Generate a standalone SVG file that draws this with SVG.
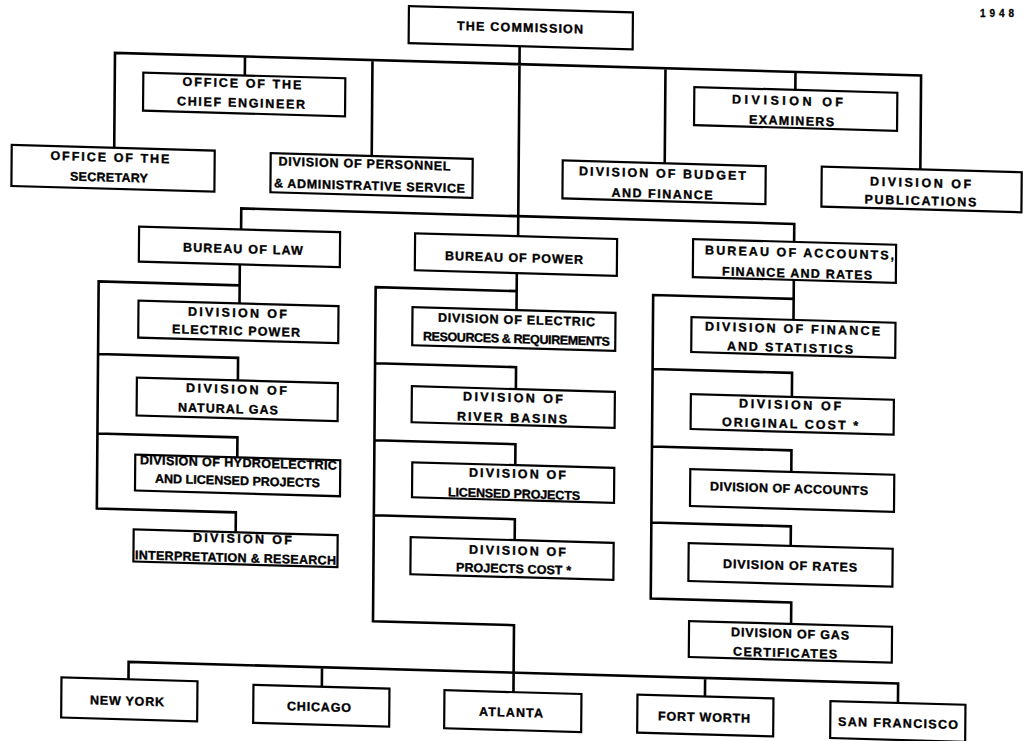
<svg xmlns="http://www.w3.org/2000/svg" width="1025" height="741" viewBox="0 0 1025 741">
<style>
.box{fill:#fff;stroke:#000;stroke-width:2.2}
.conn{fill:none;stroke:#000;stroke-width:2.6;stroke-linejoin:miter}
.lbl{font-family:"Liberation Sans",Arial,sans-serif;font-weight:bold;font-size:12.5px;text-anchor:middle;fill:#000;stroke:#000;stroke-width:0.35}
.yr{font-family:"Liberation Sans",Arial,sans-serif;font-weight:bold;font-size:10px;fill:#000;stroke:#000;stroke-width:0.3}
</style>
<rect x="0" y="0" width="1025" height="741" fill="#fff"/>
<text class="yr" x="980" y="17" textLength="34" lengthAdjust="spacing">1948</text>
<g transform="matrix(1,0.028,-0.008,1,3,-14.3)">
<g id="connectors">
<path class="conn" d="M112.5,159 V64 H918.6 V158 M242.5,64 V83 M370,64 V160 M663,64 V159 M793,64 V82 M517,45.6 V236"/>
<path class="conn" d="M240,237 V216 H793 V234"/>
<path class="conn" d="M239,272 V311 M239,293 H98 V520 H237 V540 M98,365.5 H238 V388 M98,445 H238 V465"/>
<path class="conn" d="M516,273 V310 M516,291 H375 V625 H516 V692 M375,367 H516 V389 M375,444 H516 V465 M375,519 H516 V540"/>
<path class="conn" d="M793,272 V312 M793,291 H652.5 V594.5 H793 V616 M652.5,365 H792 V389 M652.5,442.5 H792 V464 M652.5,518.5 H792 V538"/>
<path class="conn" d="M131,690 V672.5 H900.5 V692 M324.4,672.5 V692 M707.5,672.5 V691"/>
</g>
<g id="commission"><rect class="box" x="406" y="9" width="224" height="37"/><text class="lbl" x="517.3" y="31.5" textLength="126" lengthAdjust="spacing">THE COMMISSION</text></g>
<g id="chief-engineer"><rect class="box" x="141" y="83" width="202" height="38"/><text class="lbl" x="239.7" y="95.1" textLength="119" lengthAdjust="spacing">OFFICE OF THE</text><text class="lbl" x="238.9" y="114.6" textLength="128" lengthAdjust="spacing">CHIEF ENGINEER</text></g>
<g id="secretary"><rect class="box" x="10" y="159" width="203" height="41"/><text class="lbl" x="108.3" y="172.8" textLength="119" lengthAdjust="spacing">OFFICE OF THE</text><text class="lbl" x="107.5" y="192.8" textLength="78" lengthAdjust="spacing">SECRETARY</text></g>
<g id="personnel"><rect class="box" x="269" y="160" width="202" height="39"/><text class="lbl" x="362.8" y="172.1" textLength="172" lengthAdjust="spacing">DIVISION OF PERSONNEL</text><text class="lbl" x="368" y="194" textLength="191" lengthAdjust="spacing">&amp; ADMINISTRATIVE SERVICE</text></g>
<g id="budget"><rect class="box" x="561" y="159" width="203" height="38"/><text class="lbl" x="660.9" y="173.5" textLength="167" lengthAdjust="spacing">DIVISION OF BUDGET</text><text class="lbl" x="660.6" y="194" textLength="101" lengthAdjust="spacing">AND FINANCE</text></g>
<g id="examiners"><rect class="box" x="692" y="82" width="203" height="38"/><text class="lbl" x="785.3" y="97.3" textLength="111" lengthAdjust="spacing">DIVISION OF</text><text class="lbl" x="789.5" y="117.2" textLength="85" lengthAdjust="spacing">EXAMINERS</text></g>
<g id="publications"><rect class="box" x="820" y="158" width="200" height="40"/><text class="lbl" x="919" y="175.6" textLength="101" lengthAdjust="spacing">DIVISION OF</text><text class="lbl" x="919" y="193.6" textLength="112" lengthAdjust="spacing">PUBLICATIONS</text></g>
<g id="bureau-law"><rect class="box" x="138" y="237" width="201" height="35"/><text class="lbl" x="242" y="260.8" textLength="120" lengthAdjust="spacing">BUREAU OF LAW</text></g>
<g id="electric-power"><rect class="box" x="138" y="311" width="200" height="37"/><text class="lbl" x="237" y="324.7" textLength="99" lengthAdjust="spacing">DIVISION OF</text><text class="lbl" x="235.7" y="342.7" textLength="128" lengthAdjust="spacing">ELECTRIC POWER</text></g>
<g id="natural-gas"><rect class="box" x="137" y="388" width="201" height="38"/><text class="lbl" x="236.6" y="401.2" textLength="101" lengthAdjust="spacing">DIVISION OF</text><text class="lbl" x="228.3" y="420.9" textLength="100" lengthAdjust="spacing">NATURAL GAS</text></g>
<g id="hydroelectric"><rect class="box" x="136" y="465" width="205" height="36"/><text class="lbl" x="239.2" y="474.6" textLength="197" lengthAdjust="spacing">DIVISION OF HYDROELECTRIC</text><text class="lbl" x="238.4" y="492.6" textLength="165" lengthAdjust="spacing">AND LICENSED PROJECTS</text></g>
<g id="interpretation"><rect class="box" x="135" y="540" width="204" height="32"/><text class="lbl" x="243.8" y="550.5" textLength="99" lengthAdjust="spacing">DIVISION OF</text><text class="lbl" x="237" y="569.7" textLength="201" lengthAdjust="spacing">INTERPRETATION &amp; RESEARCH</text></g>
<g id="bureau-power"><rect class="box" x="414" y="236" width="202" height="37"/><text class="lbl" x="513.1" y="261.9" textLength="138" lengthAdjust="spacing">BUREAU OF POWER</text></g>
<g id="electric-resources"><rect class="box" x="412" y="310" width="203" height="38"/><text class="lbl" x="516.1" y="323.9" textLength="157" lengthAdjust="spacing">DIVISION OF ELECTRIC</text><text class="lbl" x="516.2" y="342.9" textLength="187" lengthAdjust="spacing">RESOURCES &amp; REQUIREMENTS</text></g>
<g id="river-basins"><rect class="box" x="412" y="389" width="203" height="36"/><text class="lbl" x="513.2" y="401.9" textLength="100" lengthAdjust="spacing">DIVISION OF</text><text class="lbl" x="512.4" y="421.9" textLength="110" lengthAdjust="spacing">RIVER BASINS</text></g>
<g id="licensed-projects"><rect class="box" x="413" y="465" width="202" height="35"/><text class="lbl" x="518.3" y="477.8" textLength="97" lengthAdjust="spacing">DIVISION OF</text><text class="lbl" x="515" y="497.9" textLength="132" lengthAdjust="spacing">LICENSED PROJECTS</text></g>
<g id="projects-cost"><rect class="box" x="412" y="540" width="203" height="37"/><text class="lbl" x="518.9" y="554.8" textLength="97" lengthAdjust="spacing">DIVISION OF</text><text class="lbl" x="515.1" y="572.9" textLength="115" lengthAdjust="spacing">PROJECTS COST *</text></g>
<g id="bureau-accounts"><rect class="box" x="692" y="234" width="203" height="38"/><text class="lbl" x="798.6" y="248.9" textLength="189" lengthAdjust="spacing">BUREAU OF ACCOUNTS,</text><text class="lbl" x="796.2" y="269.5" textLength="150" lengthAdjust="spacing">FINANCE AND RATES</text></g>
<g id="finance-statistics"><rect class="box" x="691" y="312" width="204" height="35"/><text class="lbl" x="792.2" y="325.1" textLength="175" lengthAdjust="spacing">DIVISION OF FINANCE</text><text class="lbl" x="789.8" y="344.2" textLength="126" lengthAdjust="spacing">AND STATISTICS</text></g>
<g id="original-cost"><rect class="box" x="691" y="389" width="203" height="35"/><text class="lbl" x="790.3" y="401.2" textLength="102" lengthAdjust="spacing">DIVISION OF</text><text class="lbl" x="790.4" y="420.2" textLength="136" lengthAdjust="spacing">ORIGINAL COST *</text></g>
<g id="accounts"><rect class="box" x="691" y="464" width="204" height="37"/><text class="lbl" x="789.9" y="485" textLength="158" lengthAdjust="spacing">DIVISION OF ACCOUNTS</text></g>
<g id="rates"><rect class="box" x="690" y="538" width="204" height="38"/><text class="lbl" x="791.6" y="562" textLength="134" lengthAdjust="spacing">DIVISION OF RATES</text></g>
<g id="gas-certificates"><rect class="box" x="691" y="616" width="203" height="36"/><text class="lbl" x="792.1" y="630.1" textLength="118" lengthAdjust="spacing">DIVISION OF GAS</text><text class="lbl" x="787.3" y="649.3" textLength="104" lengthAdjust="spacing">CERTIFICATES</text></g>
<g id="new-york"><rect class="box" x="64" y="690" width="136" height="40"/><text class="lbl" x="129.7" y="716" textLength="74" lengthAdjust="spacing">NEW YORK</text></g>
<g id="chicago"><rect class="box" x="256" y="692" width="136" height="38"/><text class="lbl" x="321.7" y="716.5" textLength="64" lengthAdjust="spacing">CHICAGO</text></g>
<g id="atlanta"><rect class="box" x="447" y="692" width="137" height="38"/><text class="lbl" x="513.7" y="716.5" textLength="64" lengthAdjust="spacing">ATLANTA</text></g>
<g id="fort-worth"><rect class="box" x="640" y="691" width="136" height="38"/><text class="lbl" x="706.8" y="716" textLength="92" lengthAdjust="spacing">FORT WORTH</text></g>
<g id="san-francisco"><rect class="box" x="833" y="692" width="135" height="37"/><text class="lbl" x="900.8" y="716.5" textLength="120" lengthAdjust="spacing">SAN FRANCISCO</text></g>
</g>
</svg>
